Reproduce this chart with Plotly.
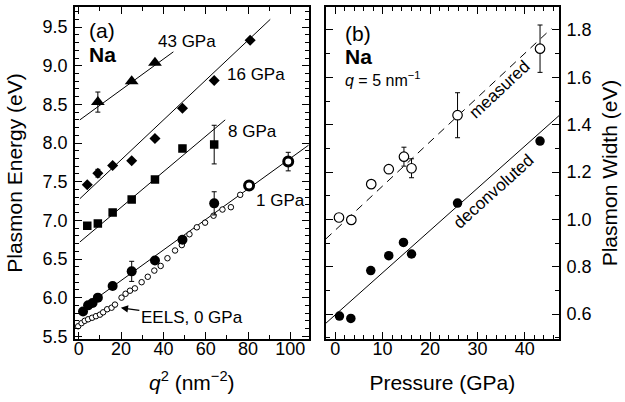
import plotly.graph_objects as go

# ---------------- Panel (a) data ----------------
q2_43 = [9, 25, 36]
E_43 = [8.53, 8.80, 9.04]
err_43 = [0.13, 0, 0]

q2_16 = [4, 9, 16, 25, 36, 49, 64, 81]
E_16 = [7.46, 7.61, 7.71, 7.77, 8.06, 8.45, 8.81, 9.33]
err_16 = [0, 0.05, 0, 0, 0, 0, 0, 0]

q2_8 = [4, 9, 16, 25, 36, 49, 64]
E_8 = [6.93, 6.96, 7.10, 7.27, 7.53, 7.93, 7.98]
err_8 = [0, 0, 0, 0, 0, 0.04, 0.25]

q2_1 = [2, 4.4, 6.5, 9, 16, 25, 36, 49, 64]
E_1 = [5.82, 5.90, 5.93, 6.00, 6.15, 6.34, 6.48, 6.75, 7.22]
err_1 = [0, 0, 0, 0, 0, 0.13, 0.04, 0, 0.15]

q2_1b = [80.5, 99]
E_1b = [7.45, 7.76]
err_1b = [0, 0.12]

q2_eels = [-0.3, 1.3, 2.8, 4.4, 6.3, 8.1, 10.0, 11.5, 13.4, 15.5, 17.1, 20.2,
           22.1, 24.2, 26.5, 29.7, 32.6, 35.7, 38.7, 41.9, 45.5, 48.7, 52.3,
           55.8, 59.7, 63.7, 67.9, 71.9, 76.3]
E_eels = [5.63, 5.67, 5.70, 5.72, 5.74, 5.76, 5.78, 5.81, 5.85, 5.87, 5.91, 6.00,
          6.05, 6.09, 6.12, 6.20, 6.27, 6.35, 6.41, 6.51, 6.61, 6.68, 6.82,
          6.91, 6.97, 7.06, 7.14, 7.17, 7.33]

# fit lines (endpoints)
fit43_x = [0.5, 44.7]
fit43_y = [8.30, 9.18]
fit16_x = [0.5, 90.5]
fit16_y = [7.28, 9.60]
fit8_x = [0.5, 69.2]
fit8_y = [6.72, 8.30]
fit1_x = [-0.3, 109]
fit1_y = [5.82, 7.98]

# ---------------- Panel (b) data ----------------
P_meas = [0.8, 3.4, 7.6, 11.3, 14.5, 16.1, 25.8, 43.2]
W_meas = [1.008, 0.998, 1.149, 1.212, 1.265, 1.216, 1.44, 1.721]
err_meas = [0, 0, 0, 0, 0.04, 0.04, 0.095, 0.10]

P_dec = [0.9, 3.3, 7.5, 11.3, 14.4, 16.1, 25.8, 43.2]
W_dec = [0.592, 0.582, 0.784, 0.847, 0.903, 0.854, 1.069, 1.331]

meas_line_x = [-2, 45.6]
meas_line_y = [0.917, 1.806]
dec_line_x = [-2, 47.3]
dec_line_y = [0.561, 1.440]

FONT = "Liberation Sans, Arial, sans-serif"
BLACK = "black"

fig = go.Figure()

def line(x, y, xa="x", ya="y", dash=None):
    fig.add_trace(go.Scatter(x=x, y=y, mode="lines", xaxis=xa, yaxis=ya,
                             line=dict(color=BLACK, width=1, dash=dash),
                             showlegend=False, hoverinfo="skip"))

def pts(x, y, symbol, size, err=None, xa="x", ya="y", fill=BLACK, lw=0):
    fig.add_trace(go.Scatter(
        x=x, y=y, mode="markers", xaxis=xa, yaxis=ya,
        marker=dict(symbol=symbol, size=size, color=fill,
                    line=dict(color=BLACK, width=lw)),
        error_y=(dict(type="data", array=err, visible=True, color=BLACK,
                      thickness=1, width=2.5) if err is not None else None),
        showlegend=False))

# panel a lines
line(fit43_x, fit43_y)
line(fit16_x, fit16_y)
line(fit8_x, fit8_y)
line(fit1_x, fit1_y)

pts(q2_eels, E_eels, "circle", 5.5, fill="white", lw=1)
pts(q2_43, E_43, "triangle-up", 12, err_43)
pts(q2_16, E_16, "diamond", 8.5, err_16)
pts(q2_8, E_8, "square", 8.5, err_8)
pts(q2_1, E_1, "circle", 10, err_1)
pts(q2_1b, E_1b, "circle", 9, err_1b, fill="white", lw=3)

# panel b
line(meas_line_x, meas_line_y, "x2", "y2", dash="8px,6px")
line(dec_line_x, dec_line_y, "x2", "y2")
pts(P_meas, W_meas, "circle", 9.5, err_meas, "x2", "y2", fill="white", lw=1.2)
pts(P_dec, W_dec, "circle", 9.5, None, "x2", "y2")

axis_common = dict(showline=True, linecolor=BLACK, linewidth=1.8, mirror="allticks",
                   ticks="inside", ticklen=7, tickwidth=1.2, tickcolor=BLACK,
                   showgrid=False, zeroline=False,
                   tickfont=dict(family=FONT, size=18, color=BLACK),
                   title_font=dict(family=FONT, size=21, color=BLACK))
minor_common = dict(ticks="inside", ticklen=4, tickwidth=1.2, tickcolor=BLACK)

fig.update_layout(
    width=625, height=402,
    margin=dict(l=75, r=66, t=5, b=63),
    paper_bgcolor="white", plot_bgcolor="white",
    showlegend=False,
    xaxis=dict(domain=[0, 0.4825], range=[-1.8, 108.6], dtick=20, tick0=0,
               ticklabelstandoff=-8,
               minor=dict(dtick=10, **minor_common),
               title=dict(text="<i>q</i><sup>2</sup> (nm<sup>−2</sup>)", standoff=18),
               anchor="y", **axis_common),
    yaxis=dict(domain=[0, 1], range=[5.465, 9.76], dtick=0.5, tick0=5.5,
               tickformat=".1f", ticklabelstandoff=2,
               minor=dict(dtick=0.1, **minor_common),
               title=dict(text="Plasmon Energy (eV)", standoff=14),
               anchor="x", **axis_common),
    xaxis2=dict(domain=[0.518, 1], range=[-2.0, 47.2], dtick=10, tick0=0,
                ticklabelstandoff=-8,
                minor=dict(dtick=2, **minor_common),
                title=dict(text="Pressure (GPa)", standoff=18),
                anchor="y2", **axis_common),
    yaxis2=dict(domain=[0, 1], range=[0.495, 1.897], dtick=0.2, tick0=0.6,
                tickformat=".1f", side="right", ticklabelstandoff=2,
                minor=dict(dtick=0.1, **minor_common),
                title=dict(text="Plasmon Width (eV)", standoff=12),
                anchor="x2", **axis_common),
)

def ann(text, x, y, xref="x", yref="y", size=17, xanchor="center", angle=0, bold=False):
    fig.add_annotation(text=("<b>%s</b>" % text) if bold else text, x=x, y=y,
                       xref=xref, yref=yref, showarrow=False, xanchor=xanchor,
                       yanchor="middle", textangle=angle,
                       font=dict(family=FONT, size=size, color=BLACK))

ann("(a)", 3.8, 9.46, size=21, xanchor="left")
ann("Na", 3.8, 9.14, size=21, xanchor="left", bold=True)
ann("43 GPa", 51.2, 9.31)
ann("16 GPa", 83.9, 8.885)
ann("8 GPa", 82.0, 8.15)
ann("1 GPa", 95.3, 7.26)

fig.add_annotation(text="EELS, 0 GPa", x=19.4, y=5.87, xref="x", yref="y",
                   ax=72, ay=10, axref="pixel", ayref="pixel",
                   showarrow=True, arrowhead=2, arrowsize=1.2, arrowwidth=1.2,
                   arrowcolor=BLACK, standoff=1,
                   font=dict(family=FONT, size=17, color=BLACK))

ann("(b)", 1.6, 1.784, "x2", "y2", size=21, xanchor="left")
ann("Na", 1.6, 1.686, "x2", "y2", size=21, xanchor="left", bold=True)
ann("<i>q</i> = 5 nm<sup>−1</sup>", 1.6, 1.594, "x2", "y2", size=16, xanchor="left")
ann("measured", 34.7, 1.547, "x2", "y2", size=17, angle=-43)
ann("deconvoluted", 33.4, 1.118, "x2", "y2", size=17, angle=-42)

fig.write_html("out.html", config={"displayModeBar": False},
               post_script="document.body.style.margin='0';document.body.style.padding='0';")
